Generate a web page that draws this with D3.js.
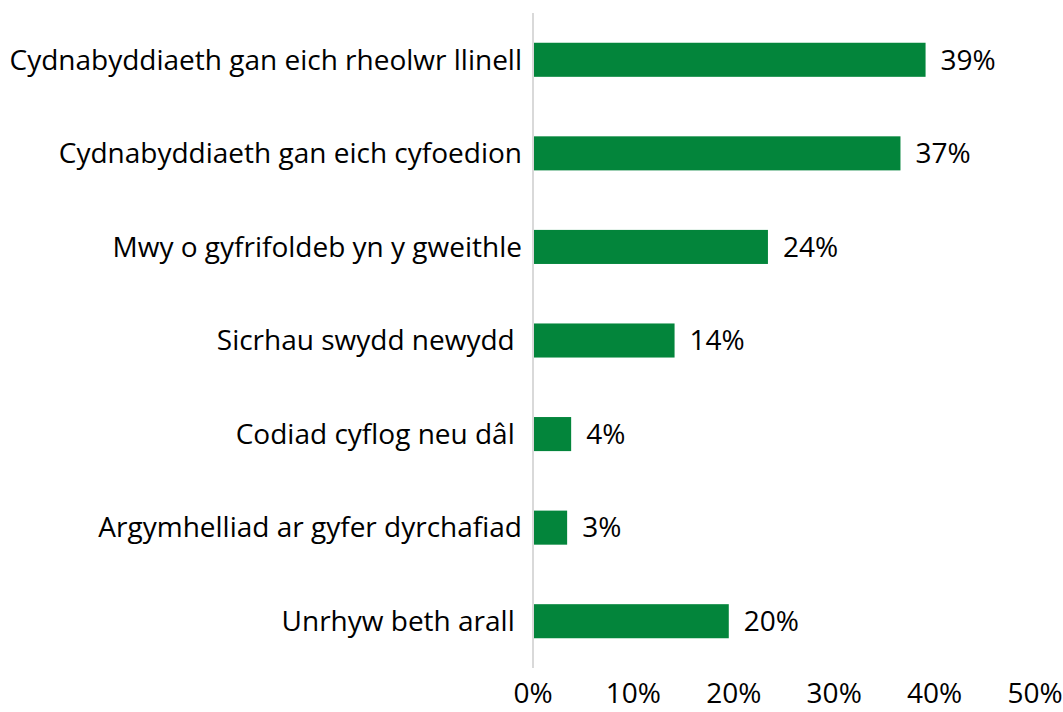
<!DOCTYPE html>
<html>
<head>
<meta charset="utf-8">
<script src="https://cdn.jsdelivr.net/npm/d3@7"></script>
<style>
  body { margin: 0; background: #fff; }
  text { font-family: "Open Sans", Lato, sans-serif; fill: #000; white-space: pre; }
</style>
</head>
<body>
<script>
// categories, top to bottom (trailing spaces kept as in source)
var categories = [
    "Cydnabyddiaeth gan eich rheolwr llinell",
    "Cydnabyddiaeth gan eich cyfoedion",
    "Mwy o gyfrifoldeb yn y gweithle",
    "Sicrhau swydd newydd ",
    "Codiad cyflog neu dâl ",
    "Argymhelliad ar gyfer dyrchafiad",
    "Unrhyw beth arall "
];
var values = [0.391, 0.366, 0.234, 0.141, 0.038, 0.034, 0.195];
var valueLabels = ["39%", "37%", "24%", "14%", "4%", "3%", "20%"];
var tickValues = [0, 0.1, 0.2, 0.3, 0.4, 0.5];

var width = 1063,
    height = 712,
    fontSize = "28px";

var svg = d3.select("body")
    .append("svg")
    .attr("width", width)
    .attr("height", height);

var x = d3.scaleLinear()
    .domain([0, 0.5])
    .range([533, 1035]);

var y = d3.scaleBand()
    .domain(categories)
    .range([13, 668])
    .paddingInner(0.636)
    .paddingOuter(0.318);

var fmt = d3.format(".0%");

//bars
svg.selectAll(".bar")
    .data(values)
    .enter()
    .append("rect")
    .attr("class", "bar")
    .attr("x", x(0))
    .attr("y", function(d, i){ return y(categories[i]); })
    .attr("width", function(d){ return x(d) - x(0); })
    .attr("height", y.bandwidth())
    .attr("fill", "#03853b");

//value labels
svg.selectAll(".val")
    .data(values)
    .enter()
    .append("text")
    .attr("class", "val")
    .attr("x", function(d){ return x(d) + 15; })
    .attr("y", function(d, i){ return y(categories[i]) + y.bandwidth() / 2; })
    .attr("dy", "0.35em")
    .style("font-size", fontSize)
    .text(function(d, i){ return valueLabels[i]; });

//category labels
svg.selectAll(".cat")
    .data(categories)
    .enter()
    .append("text")
    .attr("class", "cat")
    .attr("x", 522)
    .attr("y", function(d){ return y(d) + y.bandwidth() / 2; })
    .attr("dy", "0.35em")
    .attr("text-anchor", "end")
    .style("font-size", fontSize)
    .text(function(d){ return d; });

//vertical axis line
svg.append("line")
    .attr("x1", x(0)).attr("x2", x(0))
    .attr("y1", 13).attr("y2", 668)
    .attr("stroke", "#d9d9d9")
    .attr("stroke-width", 2);

//x tick labels
svg.selectAll(".tick")
    .data(tickValues)
    .enter()
    .append("text")
    .attr("class", "tick")
    .attr("x", function(d){ return x(d); })
    .attr("y", 703)
    .attr("text-anchor", "middle")
    .style("font-size", fontSize)
    .text(function(d){ return fmt(d); });
</script>
</body>
</html>
